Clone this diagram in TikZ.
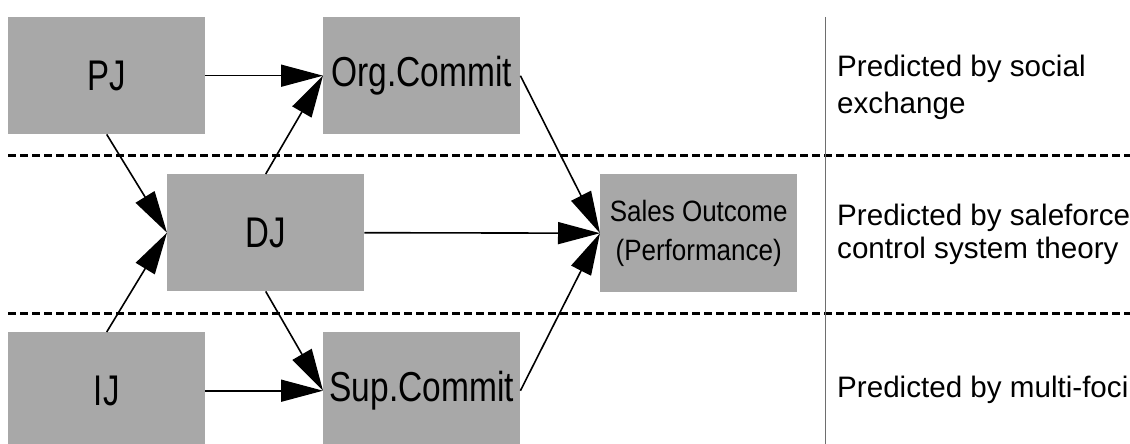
\documentclass[tikz,border=0pt]{standalone}
\usepackage{fontspec}
\setmainfont{Liberation Sans}
\usetikzlibrary{arrows.meta}
\definecolor{boxgray}{RGB}{168,168,168}
\definecolor{rulegray}{RGB}{110,110,110}
\newcommand{\tallA}[1]{\scalebox{1}[1.3]{#1}}
\newcommand{\tallB}[1]{\scalebox{1}[1.25]{#1}}
\newcommand{\tallC}[1]{\scalebox{1}[1.13]{#1}}
\begin{document}
\begin{tikzpicture}[x=1pt,y=-1pt,
  box/.style={fill=boxgray, draw=none, minimum width=197pt, minimum height=117pt,
              inner sep=0pt, anchor=north west, align=center},
  big/.style={font=\fontsize{33}{36}\selectfont},
  mid/.style={font=\fontsize{33.5}{36}\selectfont},
  small/.style={font=\fontsize{26}{35}\selectfont},
  note/.style={font=\fontsize{29.6}{36}\selectfont, anchor=base west, align=left, inner sep=0pt},
  arr/.style={-{Triangle[length=42pt,width=22pt]}, line width=1.6pt},
  sep/.style={line width=3pt, dash pattern=on 8pt off 4pt},
]
\useasboundingbox (0,0) rectangle (1130,444);
\clip (0,0) rectangle (1130,444);

\node[box,big] (pj) at (8,17) {\tallA{PJ}};
\node[box,mid] (org) at (323,17) {\tallB{Org.Commit}};
\node[box,big] (dj) at (167,174) {\tallA{DJ}};
\node[box,small,minimum height=118pt] (sales) at (600,174)
  {\tallC{\begin{tabular}{@{}c@{}}Sales Outcome\\(Performance)\end{tabular}}};
\node[box,big] (ij) at (8,332) {\tallA{IJ}};
\node[box,mid] (sup) at (323,332) {\tallB{Sup.Commit}};

\coordinate (d1a) at (8,155);
\coordinate (d1b) at (1130,155);
\coordinate (d2a) at (8,313);
\coordinate (d2b) at (1130,313);
\draw[sep] (d1a) -- (d1b);
\draw[sep] (d2a) -- (d2b);

\coordinate (vt) at (825,17);
\coordinate (vb) at (825,444);
\draw[rulegray, line width=1pt] (vt) -- (vb);

\draw[arr] (pj.east) -- (org.west);
\draw[arr] (pj.south) -- (dj.west);
\draw[arr] (ij.north) -- (dj.west);
\draw[arr] (dj.north) -- (org.west);
\draw[arr] (dj.east) -- (sales.west);
\draw[arr] (org.east) -- (sales.west);
\draw[arr] (dj.south) -- (sup.west);
\draw[arr] (ij.east) -- (sup.west);
\draw[arr] (sup.east) -- (sales.west);

\node[note] (n1) at (837,113) {Predicted by social\\exchange};
\node[note, font=\fontsize{29.6}{33}\selectfont] (n2) at (837,258) {Predicted by saleforce\\control system theory};
\node[note] (n3) at (837,397) {Predicted by multi-foci};
\end{tikzpicture}
\end{document}
